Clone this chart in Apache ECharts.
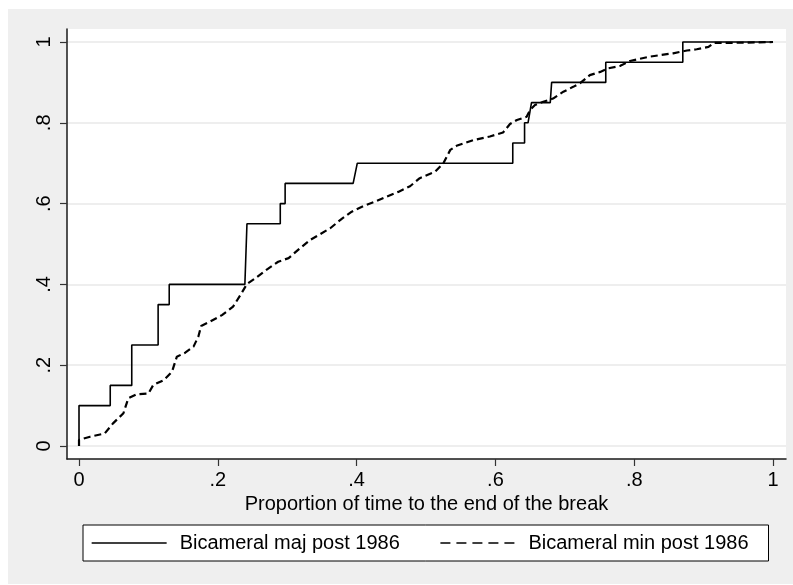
<!DOCTYPE html>
<html>
<head>
<meta charset="utf-8">
<script src="https://cdn.jsdelivr.net/npm/echarts@6/dist/echarts.min.js"></script>
<style>
html,body{margin:0;padding:0;background:#fff;}
#chart{width:793px;height:585px;}
</style>
</head>
<body>
<div id="chart"></div>
<script>
// ---- data ----
var xTicks = [0, 0.2, 0.4, 0.6, 0.8, 1];
var yTicks = [0, 0.2, 0.4, 0.6, 0.8, 1];
var seriesNames = ['Bicameral maj post 1986', 'Bicameral min post 1986'];
var xTitle = 'Proportion of time to the end of the break';

// Bicameral maj post 1986 (step curve corners)
var majX = [0, 0, 0.045, 0.045, 0.076, 0.076, 0.114, 0.114, 0.130, 0.130, 0.239, 0.240, 0.242, 0.290, 0.290, 0.297, 0.297, 0.395, 0.401, 0.625, 0.625, 0.642, 0.642, 0.647, 0.652, 0.679, 0.681, 0.759, 0.759, 0.870, 0.870, 1.0];
var majY = [0, 0.10, 0.10, 0.15, 0.15, 0.25, 0.25, 0.35, 0.35, 0.40, 0.40, 0.45, 0.55, 0.55, 0.60, 0.60, 0.65, 0.65, 0.70, 0.70, 0.75, 0.75, 0.80, 0.80, 0.85, 0.85, 0.90, 0.90, 0.95, 0.95, 1.0, 1.0];

// Bicameral min post 1986
var minX = [0, 0, 0.016, 0.037, 0.049, 0.064, 0.071, 0.083, 0.100, 0.107, 0.122, 0.134, 0.141, 0.153, 0.165, 0.172, 0.176, 0.189, 0.206, 0.222, 0.232, 0.242, 0.254, 0.270, 0.287, 0.302, 0.318, 0.333, 0.345, 0.362, 0.379, 0.393, 0.410, 0.427, 0.443, 0.460, 0.477, 0.491, 0.513, 0.525, 0.535, 0.544, 0.568, 0.592, 0.611, 0.621, 0.631, 0.645, 0.650, 0.657, 0.669, 0.683, 0.698, 0.712, 0.722, 0.736, 0.751, 0.763, 0.780, 0.794, 0.823, 0.856, 0.876, 0.890, 0.907, 0.915, 0.943, 1.0];
var minY = [0, 0.015, 0.023, 0.031, 0.056, 0.081, 0.118, 0.128, 0.130, 0.151, 0.163, 0.184, 0.221, 0.231, 0.246, 0.271, 0.297, 0.308, 0.324, 0.345, 0.372, 0.401, 0.415, 0.436, 0.456, 0.465, 0.489, 0.510, 0.522, 0.539, 0.563, 0.580, 0.594, 0.605, 0.617, 0.629, 0.643, 0.663, 0.679, 0.700, 0.733, 0.743, 0.757, 0.766, 0.776, 0.797, 0.807, 0.815, 0.832, 0.844, 0.852, 0.860, 0.877, 0.889, 0.898, 0.918, 0.926, 0.935, 0.941, 0.953, 0.964, 0.972, 0.979, 0.982, 0.988, 0.998, 0.998, 1.0];

function zip(a, b) { return a.map(function (v, i) { return [v, b[i]]; }); }
function fmt(v) {
  if (v === 0) return '0';
  if (v === 1) return '1';
  return String(Math.round(v * 10) / 10).replace(/^0\./, '.');
}

var FONT = '"Liberation Sans", Arial, Helvetica, sans-serif';
var chart = echarts.init(document.getElementById('chart'), null, {renderer: 'canvas'});
chart.setOption({
  backgroundColor: '#efefef',
  animation: false,
  textStyle: {fontFamily: FONT},
  graphic: [
    {type: 'rect', shape: {x: 0, y: 0, width: 793, height: 9}, style: {fill: '#fff'}, silent: true},
    {type: 'rect', shape: {x: 0, y: 0, width: 8, height: 585}, style: {fill: '#fff'}, silent: true},
    {type: 'rect', shape: {x: 0, y: 584, width: 793, height: 1}, style: {fill: '#fff'}, silent: true}
  ],
  grid: [
    {left: 67, right: 7, top: 29, bottom: 126, show: true, backgroundColor: '#fff', borderWidth: 0},
    {left: 67, right: 7, top: 42, bottom: 139, show: false}
  ],
  xAxis: [
    {
      type: 'value', gridIndex: 0, min: -0.0173, max: 1.0187,
      axisLine: {show: true, onZero: false, lineStyle: {color: '#1a1a1a', width: 1.5}},
      axisTick: {show: true, customValues: xTicks, length: 7, lineStyle: {color: '#333', width: 1.2}},
      axisLabel: {show: true, customValues: xTicks, formatter: fmt, fontSize: 20, color: '#000', margin: 11, fontFamily: FONT},
      splitLine: {show: false},
      name: xTitle, nameLocation: 'middle', nameGap: 33,
      nameTextStyle: {fontSize: 20, color: '#000', fontFamily: FONT}
    },
    {type: 'value', gridIndex: 1, min: 0, max: 1, show: false}
  ],
  yAxis: [
    {
      type: 'value', gridIndex: 0, min: -0.0322, max: 1.0322,
      axisLine: {show: true, onZero: false, lineStyle: {color: '#1a1a1a', width: 1.5}},
      axisTick: {show: true, customValues: yTicks, length: 7, lineStyle: {color: '#333', width: 1.2}},
      axisLabel: {show: true, customValues: yTicks, formatter: fmt, rotate: 90, fontSize: 20, color: '#000', margin: 13, fontFamily: FONT},
      splitLine: {show: false}
    },
    {
      type: 'value', gridIndex: 1, min: 0, max: 1, interval: 0.2,
      axisLine: {show: false}, axisTick: {show: false}, axisLabel: {show: false},
      splitLine: {show: true, lineStyle: {color: '#e8e8e8', width: 1.5}}
    }
  ],
  legend: {
    left: 83, top: 525, orient: 'horizontal',
    itemWidth: 75, itemHeight: 20, itemGap: 40,
    padding: [8, 20, 8, 8],
    borderColor: '#000', borderWidth: 1, backgroundColor: '#fff',
    selectedMode: false,
    textStyle: {fontSize: 20, color: '#000', fontFamily: FONT, padding: [0, 0, 0, 8]},
    data: [
      {name: seriesNames[0], itemStyle: {opacity: 0, borderWidth: 0}, lineStyle: {color: '#000', width: 1.3, type: 'solid', opacity: 1}},
      {name: seriesNames[1], itemStyle: {opacity: 0, borderWidth: 0}, lineStyle: {color: '#000', width: 1.3, type: [10, 6], opacity: 1}}
    ]
  },
  series: [
    {
      name: seriesNames[0], type: 'line', xAxisIndex: 0, yAxisIndex: 0,
      data: zip(majX, majY), symbol: 'none', smooth: false, z: 3,
      lineStyle: {color: '#000', width: 1.6, type: 'solid'}, itemStyle: {color: '#000'}
    },
    {
      name: seriesNames[1], type: 'line', xAxisIndex: 0, yAxisIndex: 0,
      data: zip(minX, minY), symbol: 'none', smooth: false, z: 3,
      lineStyle: {color: '#000', width: 2.2, type: [7, 4]}, itemStyle: {color: '#000'}
    }
  ]
});
</script>
</body>
</html>
